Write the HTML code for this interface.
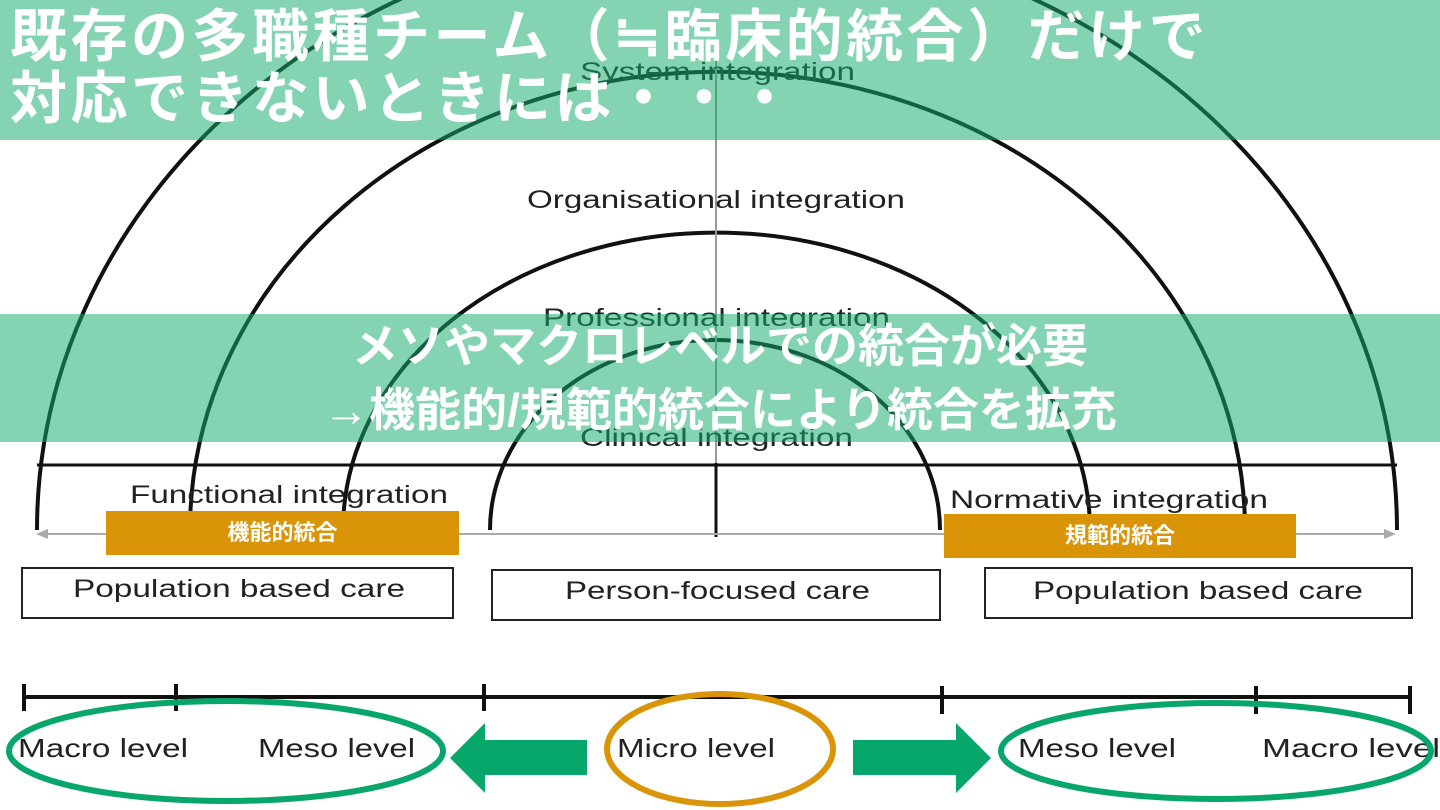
<!DOCTYPE html>
<html><head><meta charset="utf-8"><style>
html,body{margin:0;padding:0;background:#fff;}
body{width:1440px;height:810px;position:relative;overflow:hidden;font-family:"Liberation Sans","Noto Sans CJK JP",sans-serif;}
.ban{position:absolute;left:0;width:1440px;background:rgba(20,170,110,0.52);color:#fff;font-weight:bold;font-family:"Liberation Sans","Noto Sans CJK JP",sans-serif;white-space:nowrap;}
.lab{position:absolute;background:#d99407;color:#fff;font-weight:bold;font-size:22px;text-align:center;font-family:"Liberation Sans","Noto Sans CJK JP",sans-serif;}
</style></head><body>
<svg width="1440" height="810" style="position:absolute;left:0;top:0" font-family="Liberation Sans, sans-serif">
<g fill="none" stroke="#111" stroke-width="4">
<path d="M37 530 A680 600 0 0 1 1397 530"/>
<path d="M190 530 A527 458 0 0 1 1245 530"/>
<path d="M343 530 A373 297 0 0 1 1090 530"/>
<path d="M490 530 A225 190 0 0 1 940 530"/>
</g>
<line x1="716" y1="60" x2="716" y2="463" stroke="#999" stroke-width="2"/>
<line x1="716" y1="463" x2="716" y2="537" stroke="#111" stroke-width="3"/>
<line x1="37" y1="465" x2="1397" y2="465" stroke="#111" stroke-width="3"/>
<line x1="40" y1="534" x2="1392" y2="534" stroke="#aaa" stroke-width="2"/>
<path d="M36 534 L48 529 L48 539Z" fill="#aaa"/>
<path d="M1396 534 L1384 529 L1384 539Z" fill="#aaa"/>
<g fill="#222" font-size="25">
<text x="580" y="80" textLength="275" lengthAdjust="spacingAndGlyphs">System integration</text>
<text x="527" y="208" textLength="378" lengthAdjust="spacingAndGlyphs">Organisational integration</text>
<text x="543" y="326" textLength="347" lengthAdjust="spacingAndGlyphs">Professional integration</text>
<text x="580" y="446" textLength="273" lengthAdjust="spacingAndGlyphs">Clinical integration</text>
<text x="130" y="503" textLength="318" lengthAdjust="spacingAndGlyphs">Functional integration</text>
<text x="950" y="508" textLength="318" lengthAdjust="spacingAndGlyphs">Normative integration</text>
</g>
<g fill="#fff" stroke="#222" stroke-width="2">
<rect x="22" y="568" width="431" height="50"/>
<rect x="492" y="570" width="448" height="50"/>
<rect x="985" y="568" width="427" height="50"/>
</g>
<g fill="#222" font-size="25">
<text x="73" y="597" textLength="332" lengthAdjust="spacingAndGlyphs">Population based care</text>
<text x="565" y="599" textLength="305" lengthAdjust="spacingAndGlyphs">Person-focused care</text>
<text x="1033" y="599" textLength="330" lengthAdjust="spacingAndGlyphs">Population based care</text>
</g>
<line x1="24" y1="697" x2="1410" y2="697" stroke="#111" stroke-width="4"/>
<g stroke="#111" stroke-width="4">
<line x1="24" y1="684" x2="24" y2="711"/><line x1="176" y1="684" x2="176" y2="711"/>
<line x1="484" y1="684" x2="484" y2="711"/><line x1="942" y1="686" x2="942" y2="714"/>
<line x1="1256" y1="686" x2="1256" y2="714"/><line x1="1410" y1="686" x2="1410" y2="714"/>
</g>
<g fill="#222" font-size="26">
<text x="18" y="757" textLength="170" lengthAdjust="spacingAndGlyphs">Macro level</text>
<text x="258" y="757" textLength="157" lengthAdjust="spacingAndGlyphs">Meso level</text>
<text x="617" y="757" textLength="158" lengthAdjust="spacingAndGlyphs">Micro level</text>
<text x="1018" y="757" textLength="158" lengthAdjust="spacingAndGlyphs">Meso level</text>
<text x="1262" y="757" textLength="178" lengthAdjust="spacingAndGlyphs">Macro level</text>
</g>
<g fill="none" stroke-width="6">
<ellipse cx="226" cy="751" rx="217" ry="50" stroke="#07a66a"/>
<ellipse cx="1216" cy="751" rx="215" ry="48" stroke="#07a66a"/>
<ellipse cx="720" cy="749" rx="113" ry="55" stroke="#d99407"/>
</g>
<path d="M587 740 L485 740 L485 723 L450 758 L485 793 L485 775 L587 775Z" fill="#07a66a"/>
<path d="M853 740 L956 740 L956 723 L991 758 L956 793 L956 775 L853 775Z" fill="#07a66a"/>
</svg>
<div class="ban" style="top:0;height:140px;font-size:57px;line-height:62px;padding-left:10px;box-sizing:border-box;padding-top:6px;letter-spacing:3.5px;">既存の多職種チーム（≒臨床的統合）だけで<br>対応できないときには・・・</div>
<div class="ban" style="top:314px;height:128px;font-size:46px;line-height:64px;text-align:center;padding-top:0px;box-sizing:border-box;">メソやマクロレベルでの統合が必要<br>→機能的/規範的統合により統合を拡充</div>
<div class="lab" style="left:106px;top:511px;width:353px;height:44px;line-height:44px;">機能的統合</div>
<div class="lab" style="left:944px;top:514px;width:352px;height:44px;line-height:44px;">規範的統合</div>
</body></html>
